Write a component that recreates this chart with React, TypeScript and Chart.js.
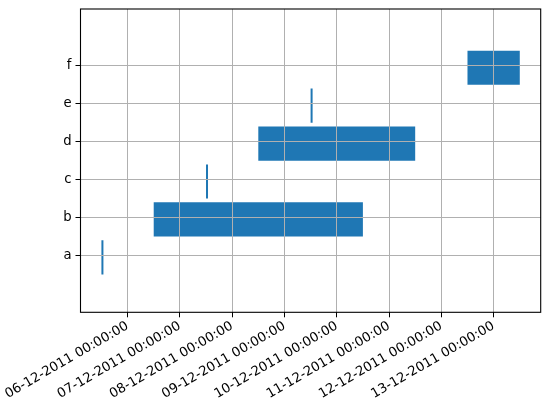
import React, { useEffect, useRef } from 'react';
import { Chart, registerables } from 'chart.js';

Chart.register(...registerables);

const CATEGORIES = ['a', 'b', 'c', 'd', 'e', 'f'];
const STARTS = [
  '05-12-2011 12:00:00',
  '06-12-2011 12:00:00',
  '07-12-2011 12:00:00',
  '08-12-2011 12:00:00',
  '09-12-2011 12:00:00',
  '12-12-2011 12:00:00',
];
const ENDS = [
  '05-12-2011 12:00:00',
  '10-12-2011 12:00:00',
  '07-12-2011 12:00:00',
  '11-12-2011 12:00:00',
  '09-12-2011 12:00:00',
  '13-12-2011 12:00:00',
];
const X_TICK_LABELS = [
  '06-12-2011 00:00:00',
  '07-12-2011 00:00:00',
  '08-12-2011 00:00:00',
  '09-12-2011 00:00:00',
  '10-12-2011 00:00:00',
  '11-12-2011 00:00:00',
  '12-12-2011 00:00:00',
  '13-12-2011 00:00:00',
];

function parseDate(s: string): number {
  const [d, t] = s.split(' ');
  const [dd, mm, yyyy] = d.split('-').map(Number);
  const [h, mi, se] = t.split(':').map(Number);
  return Date.UTC(yyyy, mm - 1, dd, h, mi, se);
}

const FONT = { family: 'DejaVu Sans', size: 13.2 };

const framePlugin = {
  id: 'frame',
  afterDraw(chart: any) {
    const { ctx, chartArea: a } = chart;
    ctx.save();
    ctx.strokeStyle = '#000';
    ctx.lineWidth = 1.1;
    ctx.strokeRect(a.left, a.top, a.right - a.left, a.bottom - a.top);
    ctx.restore();
  },
};

export default function App() {
  const ref = useRef<HTMLCanvasElement | null>(null);

  useEffect(() => {
    if (!ref.current) return;
    const starts = STARTS.map(parseDate);
    const ends = ENDS.map(parseDate);
    const tickValues = X_TICK_LABELS.map(parseDate);
    const dmin = Math.min(...starts);
    const dmax = Math.max(...ends);
    const margin = (dmax - dmin) * 0.05;

    const chart = new Chart(ref.current, {
      type: 'bar',
      data: {
        datasets: [
          {
            data: CATEGORIES.map((c, i) => ({ x: [starts[i], ends[i]], y: i - 0.05 })) as any,
            backgroundColor: '#1f77b4',
            borderWidth: 0,
            minBarLength: 2,
            barPercentage: 0.9,
            categoryPercentage: 1.0,
          },
        ],
      },
      options: {
        indexAxis: 'y',
        animation: false,
        responsive: false,
        layout: { padding: { left: 0, right: 9.3, top: 9, bottom: 0 }, autoPadding: false },
        plugins: { legend: { display: false }, tooltip: { enabled: false } },
        scales: {
          x: {
            type: 'linear',
            position: 'bottom',
            offset: false,
            min: dmin - margin,
            max: dmax + margin,
            grid: { offset: false, color: '#b0b0b0', lineWidth: 1, tickLength: 5, tickColor: '#000', tickWidth: 1, z: 1 },
            border: { display: false },
            ticks: {
              font: FONT,
              color: '#000',
              minRotation: 30,
              maxRotation: 30,
              autoSkip: false,
              padding: 1,
              callback: (v: any) => {
                const idx = tickValues.indexOf(Number(v));
                return idx >= 0 ? X_TICK_LABELS[idx] : '';
              },
            },
            afterBuildTicks: (s: any) => {
              s.ticks = tickValues.map((v) => ({ value: v }));
            },
            afterFit: (s: any) => {
              s.height = 92.7;
              s.paddingLeft = 0;
              s.paddingRight = 0;
            },
          },
          y: {
            type: 'linear',
            offset: false,
            min: -1.5,
            max: 6.5,
            grid: { offset: false, color: '#b0b0b0', lineWidth: 1, tickLength: 5, tickColor: '#000', tickWidth: 1, z: 1 },
            border: { display: false },
            ticks: {
              font: FONT,
              color: '#000',
              padding: 4,
              callback: (v: any) => CATEGORIES[Number(v)] ?? '',
            },
            afterBuildTicks: (s: any) => {
              s.ticks = CATEGORIES.map((_, i) => ({ value: i }));
            },
            afterFit: (s: any) => {
              s.width = 80.5;
              s.paddingTop = 0;
              s.paddingBottom = 0;
            },
          },
        },
      },
      plugins: [framePlugin],
    });
    return () => chart.destroy();
  }, []);

  return (
    <div style={{ position: 'fixed', left: 0, top: 0, width: 550, height: 405, background: '#fff' }}>
      <canvas ref={ref} width={550} height={405} style={{ display: 'block' }} />
    </div>
  );
}
